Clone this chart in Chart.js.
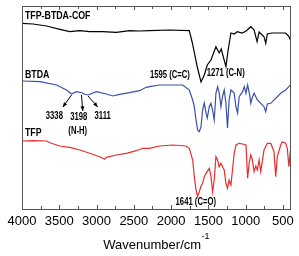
<!DOCTYPE html>
<html>
<head>
<meta charset="utf-8">
<script src="https://cdn.jsdelivr.net/npm/chart.js@4/dist/chart.umd.min.js"></script>
<style>
  html, body { margin: 0; padding: 0; background: #fff; }
</style>
</head>
<body>
<canvas id="ftirChart" width="299" height="256"></canvas>
<script>
// ---- spectra (wavenumber in cm-1, offset transmittance in arbitrary units) ----
const cofWn = [4000,3853,3670,3492,3359,3225,3092,2918,2735,2557,2424,2290,2023,1756,1715,1649,1599,1555,1515,1466,1399,1355,1328,1265,1235,1198,1154,1114,1047,994,931,887,847,820,754,731,710,647,553,464,420,400];
const cofT  = [185.7,185,183,179.7,177.3,178.3,177.3,177.3,176.7,178.3,178,178.3,179,178.3,166,142,127,134,144,149,162.3,156,160,142.3,159,176,175,177.3,176,178,182.3,179,167.3,177,172.3,165.7,175,176,176,176,172.3,169];

const btdaWn = [4000,3760,3536,3403,3336,3269,3202,3158,3114,3002,2868,2784,2691,2557,2424,2334,2290,2156,1979,1845,1756,1711,1689,1666,1645,1622,1599,1578,1555,1532,1515,1488,1466,1444,1422,1399,1377,1355,1332,1311,1288,1265,1244,1222,1198,1154,1131,1109,1087,1042,1019,996,974,954,931,914,887,843,798,754,731,710,664,597,530,464,420,400];
const btdaT  = [128,127.3,124,119,115,117.3,116.3,114.7,114,117.3,115,113,114.7,116.3,118.3,121.7,122.3,124,124,124,119,109,102.3,89,79,77.3,82.3,99,106,96,91,102.3,105.7,99,89,115.7,122.3,116,102.3,112.3,119,106,81,109,119,116,102.3,96,112.3,117.3,122.3,115.7,124,117,105.7,111,115.7,109,105.7,102.3,97.3,105,105.7,110.7,115.7,119,122.3,124];

const tfpWn = [4000,3853,3670,3626,3492,3359,3225,3092,2958,2891,2868,2735,2601,2468,2379,2290,2156,1979,1800,1756,1711,1689,1666,1645,1622,1599,1578,1555,1532,1488,1466,1444,1422,1399,1377,1355,1332,1288,1265,1244,1222,1198,1177,1154,1131,1087,1042,996,974,954,931,910,887,864,843,820,798,754,710,664,620,597,576,530,509,464,442,420,400];
const tfpT  = [68,68.3,68,66.3,63,61.7,59,55.7,52.3,49.7,51.7,54,55.7,58.3,60.7,60.7,63,64,63,60.7,49,32.3,19,12.3,17.3,23,25.7,32.3,35.7,40.7,33,17.3,29,52.3,49,42.3,45.7,39,25.7,20.7,29,24,39,55.7,64,65.7,65,64,30.7,45.7,54,49,37.3,43,39,49,37.3,59,65.7,65.7,57.3,32.3,52.3,64,67.3,65.7,60.7,42.3,59];

const seriesNames  = ["TFP-BTDA-COF", "BTDA", "TFP"];
const seriesColors = ["#000000", "#3a4fab", "#ee2b2b"];

// x axis: range, tick marks and which of them carry a label
const xMin = 400, xMax = 4000;
const xTicks = [4000,3750,3500,3250,3000,2750,2500,2250,2000,1750,1500,1250,1000,750,500];
const xTickLabels = ["4000","","3500","","3000","","2500","","2000","","1500","","1000","","500"];

// peak notes: text, wavenumber, level
const notes = [
  { text: "3338", wn: 3566, y: 93 },
  { text: "3198", wn: 3238, y: 92 },
  { text: "3111", wn: 2918, y: 93 },
  { text: "(N-H)", wn: 3252, y: 77.5 },
  { text: "1595 (C=C)", wn: 2016, y: 134 },
  { text: "1271 (C-N)", wn: 1268, y: 135.5 },
  { text: "1641 (C=O)", wn: 1669, y: 6.3 }
];
// arrows from the dip on the curve down to the note
const arrows = [
  { from: [3336, 114], to: [3452, 102] },
  { from: [3202, 114], to: [3185, 98] },
  { from: [3114, 113], to: [2985, 102] }
];
// series names placed at (wavenumber, level)
const nameSpots = [[3960, 193.5], [3960, 134.5], [3960, 76]];

function toPoints(xs, ys) {
  return xs.map((x, i) => ({ x: x, y: ys[i] }));
}

function narrowText(ctx, txt, x, y, align, squeeze) {
  ctx.save();
  ctx.translate(x, y);
  ctx.scale(squeeze, 1);
  ctx.textAlign = align;
  ctx.fillText(txt, 0, 0);
  ctx.restore();
}

// frame, inward ticks, notes, arrows, axis title
const decorPlugin = {
  id: "decor",
  afterDraw(chart) {
    const ctx = chart.ctx;
    const area = chart.chartArea;
    const xs = chart.scales.x;
    const ys = chart.scales.y;
    ctx.save();

    // frame
    ctx.strokeStyle = "#555";
    ctx.lineWidth = 1;
    ctx.strokeRect(Math.round(area.left) + 0.5, Math.round(area.top) + 0.5,
                   Math.round(area.right - area.left), Math.round(area.bottom - area.top));

    // inward ticks on top and bottom
    ctx.beginPath();
    xTicks.forEach((v, i) => {
      const px = Math.round(xs.getPixelForValue(v)) + 0.5;
      const len = xTickLabels[i] ? 4 : 3;
      ctx.moveTo(px, area.bottom);
      ctx.lineTo(px, area.bottom - len);
      ctx.moveTo(px, area.top);
      ctx.lineTo(px, area.top + len);
    });
    ctx.stroke();

    // series names
    ctx.fillStyle = "#000";
    ctx.textBaseline = "middle";
    ctx.font = "bold 11px 'Liberation Sans', Arial, sans-serif";
    seriesNames.forEach((name, i) => {
      const [wn, lv] = nameSpots[i];
      narrowText(ctx, name, xs.getPixelForValue(wn), ys.getPixelForValue(lv), "left", 0.8);
    });

    // peak notes
    ctx.font = "bold 10px 'Liberation Sans', Arial, sans-serif";
    for (const n of notes) {
      narrowText(ctx, n.text, xs.getPixelForValue(n.wn), ys.getPixelForValue(n.y), "center", 0.77);
    }

    // arrows
    ctx.strokeStyle = "#000";
    for (const a of arrows) {
      const x1 = xs.getPixelForValue(a.from[0]), y1 = ys.getPixelForValue(a.from[1]);
      const x2 = xs.getPixelForValue(a.to[0]), y2 = ys.getPixelForValue(a.to[1]);
      const ang = Math.atan2(y2 - y1, x2 - x1);
      ctx.beginPath();
      ctx.moveTo(x1, y1);
      ctx.lineTo(x2, y2);
      ctx.stroke();
      ctx.beginPath();
      ctx.moveTo(x2, y2);
      ctx.lineTo(x2 - 5 * Math.cos(ang - 0.4), y2 - 5 * Math.sin(ang - 0.4));
      ctx.lineTo(x2 - 5 * Math.cos(ang + 0.4), y2 - 5 * Math.sin(ang + 0.4));
      ctx.closePath();
      ctx.fill();
    }

    // axis title with superscript
    const mid = (area.left + area.right) / 2;
    ctx.textBaseline = "alphabetic";
    ctx.textAlign = "left";
    const main = "Wavenumber/cm";
    ctx.font = "13px 'Liberation Sans', Arial, sans-serif";
    const w1 = ctx.measureText(main).width;
    ctx.font = "9px 'Liberation Sans', Arial, sans-serif";
    const w2 = ctx.measureText("-1").width;
    const startX = mid - (w1 + w2) / 2;
    ctx.font = "13px 'Liberation Sans', Arial, sans-serif";
    ctx.fillText(main, startX, 248.5);
    ctx.font = "9px 'Liberation Sans', Arial, sans-serif";
    ctx.fillText("-1", startX + w1 + 0.5, 238.5);

    ctx.restore();
  }
};

new Chart(document.getElementById("ftirChart"), {
  type: "line",
  data: {
    datasets: [
      { label: seriesNames[0], data: toPoints(cofWn, cofT), borderColor: seriesColors[0] },
      { label: seriesNames[1], data: toPoints(btdaWn, btdaT), borderColor: seriesColors[1] },
      { label: seriesNames[2], data: toPoints(tfpWn, tfpT), borderColor: seriesColors[2] }
    ]
  },
  options: {
    responsive: false,
    animation: false,
    events: [],
    layout: { padding: { left: 22, right: 7, top: 6, bottom: 21.4 } },
    elements: {
      line: { borderWidth: 1.2, tension: 0, fill: false },
      point: { radius: 0 }
    },
    plugins: {
      legend: { display: false },
      tooltip: { enabled: false }
    },
    scales: {
      x: {
        type: "linear",
        reverse: true,
        min: xMin,
        max: xMax,
        afterBuildTicks: (scale) => {
          scale.ticks = xTicks.map((v) => ({ value: v }));
        },
        grid: { display: false, drawTicks: false, tickLength: 0 },
        border: { display: false },
        ticks: {
          autoSkip: false,
          maxRotation: 0,
          padding: 5,
          color: "#000",
          font: { family: "'Liberation Sans', Arial, sans-serif", size: 13 },
          callback: (v, i) => xTickLabels[i]
        }
      },
      y: {
        display: false,
        min: 0,
        max: 203
      }
    }
  },
  plugins: [decorPlugin]
});
</script>
</body>
</html>
